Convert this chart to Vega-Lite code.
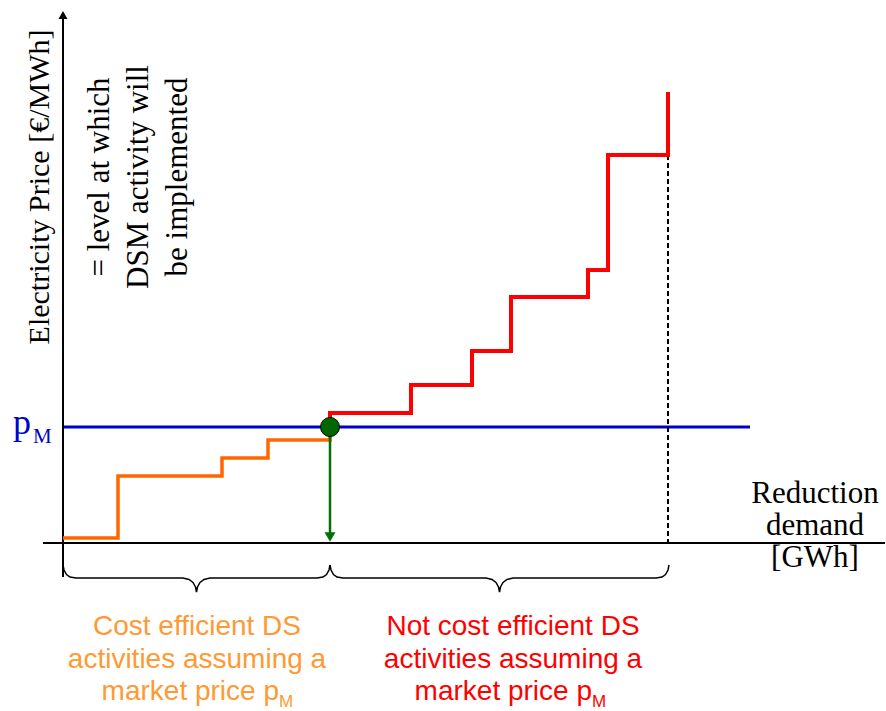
{
  "$schema": "https://vega.github.io/schema/vega-lite/v6.json",
  "width": 886,
  "height": 711,
  "autosize": "none",
  "padding": 0,
  "background": "white",
  "config": {"view": {"stroke": null}},
  "datasets": {
    "paths": [
      {"s": "xaxis", "i": 0, "x": -20, "y": 0},
      {"s": "xaxis", "i": 1, "x": 822, "y": 0},
      {"s": "yaxis", "i": 0, "x": 0, "y": -34},
      {"s": "yaxis", "i": 1, "x": 0, "y": 524},
      {"s": "blue", "i": 0, "x": 0, "y": 116},
      {"s": "blue", "i": 1, "x": 687, "y": 116},
      {"s": "dash", "i": 0, "x": 605, "y": 388},
      {"s": "dash", "i": 1, "x": 605, "y": -2},
      {"s": "orange", "i": 0, "x": 0, "y": 5},
      {"s": "orange", "i": 1, "x": 55, "y": 5},
      {"s": "orange", "i": 2, "x": 55, "y": 67},
      {"s": "orange", "i": 3, "x": 159, "y": 67},
      {"s": "orange", "i": 4, "x": 159, "y": 85},
      {"s": "orange", "i": 5, "x": 205, "y": 85},
      {"s": "orange", "i": 6, "x": 205, "y": 103},
      {"s": "orange", "i": 7, "x": 267, "y": 103},
      {"s": "orange", "i": 8, "x": 267, "y": 116},
      {"s": "red", "i": 0, "x": 267, "y": 116},
      {"s": "red", "i": 1, "x": 267, "y": 130},
      {"s": "red", "i": 2, "x": 348, "y": 130},
      {"s": "red", "i": 3, "x": 348, "y": 158},
      {"s": "red", "i": 4, "x": 409, "y": 158},
      {"s": "red", "i": 5, "x": 409, "y": 192},
      {"s": "red", "i": 6, "x": 448, "y": 192},
      {"s": "red", "i": 7, "x": 448, "y": 246},
      {"s": "red", "i": 8, "x": 525, "y": 246},
      {"s": "red", "i": 9, "x": 525, "y": 273},
      {"s": "red", "i": 10, "x": 545, "y": 273},
      {"s": "red", "i": 11, "x": 545, "y": 388},
      {"s": "red", "i": 12, "x": 605, "y": 388},
      {"s": "red", "i": 13, "x": 605, "y": 451},
      {"s": "green", "i": 0, "x": 267, "y": 110},
      {"s": "green", "i": 1, "x": 267, "y": 10},
      {"s": "brace1", "i": 0, "x": 0, "y": -22},
      {"s": "brace1", "i": 1, "x": 1, "y": -27},
      {"s": "brace1", "i": 2, "x": 3.5, "y": -31.5},
      {"s": "brace1", "i": 3, "x": 7, "y": -34},
      {"s": "brace1", "i": 4, "x": 13, "y": -35},
      {"s": "brace1", "i": 5, "x": 120, "y": -35},
      {"s": "brace1", "i": 6, "x": 126, "y": -36.5},
      {"s": "brace1", "i": 7, "x": 130, "y": -39.5},
      {"s": "brace1", "i": 8, "x": 132.5, "y": -44},
      {"s": "brace1", "i": 9, "x": 133.5, "y": -49},
      {"s": "brace1", "i": 10, "x": 134.5, "y": -44},
      {"s": "brace1", "i": 11, "x": 137, "y": -39.5},
      {"s": "brace1", "i": 12, "x": 141, "y": -36.5},
      {"s": "brace1", "i": 13, "x": 147, "y": -35},
      {"s": "brace1", "i": 14, "x": 254, "y": -35},
      {"s": "brace1", "i": 15, "x": 260, "y": -34},
      {"s": "brace1", "i": 16, "x": 263.5, "y": -31.5},
      {"s": "brace1", "i": 17, "x": 266, "y": -27},
      {"s": "brace1", "i": 18, "x": 267, "y": -22},
      {"s": "brace2", "i": 0, "x": 267, "y": -22},
      {"s": "brace2", "i": 1, "x": 268, "y": -27},
      {"s": "brace2", "i": 2, "x": 270.5, "y": -31.5},
      {"s": "brace2", "i": 3, "x": 274, "y": -34},
      {"s": "brace2", "i": 4, "x": 280, "y": -35},
      {"s": "brace2", "i": 5, "x": 423, "y": -35},
      {"s": "brace2", "i": 6, "x": 429, "y": -36.5},
      {"s": "brace2", "i": 7, "x": 433, "y": -39.5},
      {"s": "brace2", "i": 8, "x": 435.5, "y": -44},
      {"s": "brace2", "i": 9, "x": 436.5, "y": -49},
      {"s": "brace2", "i": 10, "x": 437.5, "y": -44},
      {"s": "brace2", "i": 11, "x": 440, "y": -39.5},
      {"s": "brace2", "i": 12, "x": 444, "y": -36.5},
      {"s": "brace2", "i": 13, "x": 450, "y": -35},
      {"s": "brace2", "i": 14, "x": 593, "y": -35},
      {"s": "brace2", "i": 15, "x": 599, "y": -34},
      {"s": "brace2", "i": 16, "x": 602.5, "y": -31.5},
      {"s": "brace2", "i": 17, "x": 605, "y": -27},
      {"s": "brace2", "i": 18, "x": 606, "y": -22}
    ],
    "points": [
      {"k": "yarrow", "x": 0, "y": 528},
      {"k": "garrow", "x": 267, "y": 6},
      {"k": "dot", "x": 267, "y": 116}
    ],
    "labels": [
      {"k": "ylab", "x": -23, "y": 356, "t": "Electricity Price [€/MWh]"},
      {"k": "note", "x": 37, "y": 366, "t": "= level at which\nDSM activity will\nbe implemented"},
      {"k": "xlab", "x": 752, "y": 40, "t": "Reduction\ndemand\n[GWh]"},
      {"k": "p", "x": -50, "y": 109, "t": "p"},
      {"k": "pM", "x": -30, "y": 100, "t": "M"},
      {"k": "o12", "x": 134, "y": -92, "t": "Cost efficient DS\nactivities assuming a"},
      {"k": "o3", "x": 216, "y": -157, "t": "market price p"},
      {"k": "oM", "x": 216, "y": -164, "t": "M"},
      {"k": "r12", "x": 450, "y": -92, "t": "Not cost efficient DS\nactivities assuming a"},
      {"k": "r3", "x": 529, "y": -157, "t": "market price p"},
      {"k": "rM", "x": 529, "y": -164, "t": "M"}
    ]
  },
  "encoding": {
    "x": {"field": "x", "type": "quantitative", "scale": {"domain": [-63, 823], "nice": false, "zero": false}, "axis": null},
    "y": {"field": "y", "type": "quantitative", "scale": {"domain": [-168, 543], "nice": false, "zero": false}, "axis": null}
  },
  "layer": [
    {"data": {"name": "paths"}, "transform": [{"filter": "datum.s == 'blue'"}],
     "mark": {"type": "line", "color": "#0000CC", "strokeWidth": 3},
     "encoding": {"order": {"field": "i", "type": "quantitative"}}},
    {"data": {"name": "paths"}, "transform": [{"filter": "datum.s == 'dash'"}],
     "mark": {"type": "line", "color": "#000000", "strokeWidth": 2, "strokeDash": [5, 3]},
     "encoding": {"order": {"field": "i", "type": "quantitative"}}},
    {"data": {"name": "paths"}, "transform": [{"filter": "datum.s == 'xaxis' || datum.s == 'yaxis'"}],
     "mark": {"type": "line", "color": "#000000", "strokeWidth": 2},
     "encoding": {"detail": {"field": "s"}, "order": {"field": "i", "type": "quantitative"}}},
    {"data": {"name": "paths"}, "transform": [{"filter": "datum.s == 'brace1' || datum.s == 'brace2'"}],
     "mark": {"type": "line", "color": "#000000", "strokeWidth": 1.5},
     "encoding": {"detail": {"field": "s"}, "order": {"field": "i", "type": "quantitative"}}},
    {"data": {"name": "paths"}, "transform": [{"filter": "datum.s == 'orange'"}],
     "mark": {"type": "line", "color": "#FF6600", "strokeWidth": 3.5, "strokeJoin": "miter"},
     "encoding": {"order": {"field": "i", "type": "quantitative"}}},
    {"data": {"name": "paths"}, "transform": [{"filter": "datum.s == 'red'"}],
     "mark": {"type": "line", "color": "#FF0000", "strokeWidth": 4, "strokeJoin": "miter"},
     "encoding": {"order": {"field": "i", "type": "quantitative"}}},
    {"data": {"name": "paths"}, "transform": [{"filter": "datum.s == 'green'"}],
     "mark": {"type": "line", "color": "#007000", "strokeWidth": 2.5},
     "encoding": {"order": {"field": "i", "type": "quantitative"}}},
    {"data": {"name": "points"}, "transform": [{"filter": "datum.k == 'yarrow'"}],
     "mark": {"type": "point", "shape": "triangle-up", "filled": true, "color": "#000000", "size": 81, "opacity": 1}},
    {"data": {"name": "points"}, "transform": [{"filter": "datum.k == 'garrow'"}],
     "mark": {"type": "point", "shape": "triangle-down", "filled": true, "color": "#007000", "size": 121, "opacity": 1}},
    {"data": {"name": "points"}, "transform": [{"filter": "datum.k == 'dot'"}],
     "mark": {"type": "point", "shape": "circle", "filled": true, "fill": "#006600", "stroke": "#000000", "strokeWidth": 1, "size": 361, "opacity": 1, "fillOpacity": 1}},
    {"data": {"name": "labels"}, "transform": [{"filter": "datum.k == 'ylab'"}],
     "mark": {"type": "text", "angle": 270, "align": "center", "baseline": "middle", "font": "Liberation Serif", "fontSize": 30, "color": "#000000"},
     "encoding": {"text": {"field": "t"}}},
    {"data": {"name": "labels"}, "transform": [{"filter": "datum.k == 'note'"}],
     "mark": {"type": "text", "angle": 270, "align": "center", "baseline": "middle", "font": "Liberation Serif", "fontSize": 31, "lineHeight": 39, "lineBreak": "\n", "color": "#000000"},
     "encoding": {"text": {"field": "t"}}},
    {"data": {"name": "labels"}, "transform": [{"filter": "datum.k == 'xlab'"}],
     "mark": {"type": "text", "align": "center", "baseline": "alphabetic", "font": "Liberation Serif", "fontSize": 31, "lineHeight": 32, "lineBreak": "\n", "color": "#000000"},
     "encoding": {"text": {"field": "t"}}},
    {"data": {"name": "labels"}, "transform": [{"filter": "datum.k == 'p'"}],
     "mark": {"type": "text", "align": "left", "baseline": "alphabetic", "font": "Liberation Serif", "fontSize": 36, "color": "#0000CC"},
     "encoding": {"text": {"field": "t"}}},
    {"data": {"name": "labels"}, "transform": [{"filter": "datum.k == 'pM'"}],
     "mark": {"type": "text", "align": "left", "baseline": "alphabetic", "font": "Liberation Serif", "fontSize": 21, "color": "#0000CC"},
     "encoding": {"text": {"field": "t"}}},
    {"data": {"name": "labels"}, "transform": [{"filter": "datum.k == 'o12'"}],
     "mark": {"type": "text", "align": "center", "baseline": "alphabetic", "font": "Liberation Sans", "fontSize": 28, "lineHeight": 33, "lineBreak": "\n", "color": "#FF9933"},
     "encoding": {"text": {"field": "t"}}},
    {"data": {"name": "labels"}, "transform": [{"filter": "datum.k == 'o3'"}],
     "mark": {"type": "text", "align": "right", "baseline": "alphabetic", "font": "Liberation Sans", "fontSize": 28, "color": "#FF9933"},
     "encoding": {"text": {"field": "t"}}},
    {"data": {"name": "labels"}, "transform": [{"filter": "datum.k == 'oM'"}],
     "mark": {"type": "text", "align": "left", "baseline": "alphabetic", "font": "Liberation Sans", "fontSize": 17, "color": "#FF9933"},
     "encoding": {"text": {"field": "t"}}},
    {"data": {"name": "labels"}, "transform": [{"filter": "datum.k == 'r12'"}],
     "mark": {"type": "text", "align": "center", "baseline": "alphabetic", "font": "Liberation Sans", "fontSize": 28, "lineHeight": 33, "lineBreak": "\n", "color": "#FF0000"},
     "encoding": {"text": {"field": "t"}}},
    {"data": {"name": "labels"}, "transform": [{"filter": "datum.k == 'r3'"}],
     "mark": {"type": "text", "align": "right", "baseline": "alphabetic", "font": "Liberation Sans", "fontSize": 28, "color": "#FF0000"},
     "encoding": {"text": {"field": "t"}}},
    {"data": {"name": "labels"}, "transform": [{"filter": "datum.k == 'rM'"}],
     "mark": {"type": "text", "align": "left", "baseline": "alphabetic", "font": "Liberation Sans", "fontSize": 17, "color": "#FF0000"},
     "encoding": {"text": {"field": "t"}}}
  ]
}
